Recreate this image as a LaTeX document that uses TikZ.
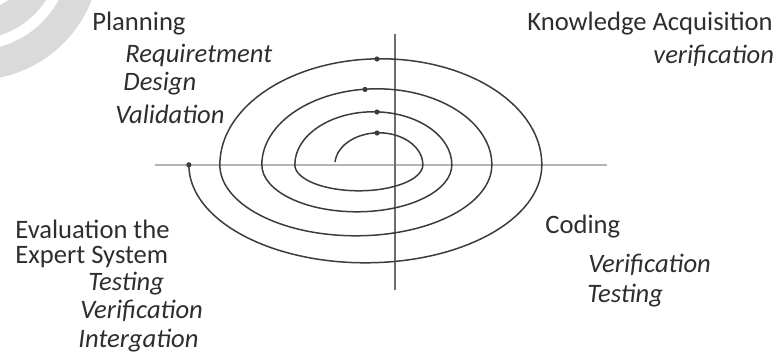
\documentclass[tikz,border=0pt]{standalone}
\usepackage{fontspec}
\setmainfont{Carlito}
\usepackage{xcolor}
\usetikzlibrary{positioning}
\definecolor{textgray}{HTML}{2E2E2E}
\definecolor{spiralgray}{HTML}{3C3C3C}
\definecolor{axisgray}{HTML}{B4B4B4}
\definecolor{poleray}{HTML}{6E6E6E}
\definecolor{markgray}{HTML}{DADADA}
\newcommand{\phasefont}{\fontsize{13.3}{16}\selectfont}
\tikzset{
 phase title/.style={anchor=base west,inner sep=0pt,text=textgray,font=\phasefont},
 phase task/.style={phase title,font=\phasefont\itshape},
 spiral line/.style={draw=spiralgray,line width=.75pt},
 axis line/.style={draw=axisgray,line width=.6pt},
 pole line/.style={draw=poleray,line width=1pt},
 spiral dot/.style={fill=spiralgray}
}

\begin{document}
\begin{tikzpicture}[x=.5pt,y=.5pt]
\useasboundingbox (0,0) rectangle (779,-360);
% faint rings in the corner
\begin{scope}
\clip (0,0) rectangle (779,-360);
\draw[markgray,line width=15pt] (-25,45) circle (110);
\draw[markgray,line width=14pt] (-25,45) circle (70);
\end{scope}
% axes
\coordinate (axis west) at (155,-165);
\coordinate (axis east) at (607,-165);
\coordinate (axis north) at (395,-34);
\coordinate (axis south) at (395,-290);
\draw[axis line] (axis west)--(axis east);
\draw[pole line] (axis north)--(axis south);
% spiral, inside out
\coordinate (spiral start) at (335,-162);
\draw[spiral line] (spiral start)
 arc[start angle=175,end angle=0,x radius=44,y radius=32]
 arc[start angle=0,end angle=-180,x radius=64,y radius=26]
 arc[start angle=180,end angle=0,x radius=78.5,y radius=53]
 arc[start angle=0,end angle=-180,x radius=95,y radius=47]
 arc[start angle=180,end angle=0,x radius=115,y radius=76]
 arc[start angle=0,end angle=-180,x radius=136,y radius=71]
 arc[start angle=180,end angle=0,x radius=161,y radius=106]
 arc[start angle=0,end angle=-180,x radius=176.5,y radius=98] coordinate (spiral end);
\coordinate (dot one) at (377,-133);
\coordinate (dot two) at (377,-112);
\coordinate (dot three) at (365,-89.4);
\coordinate (dot four) at (377,-59);
\foreach \d in {dot one,dot two,dot three,dot four,spiral end}
 \fill[spiral dot] (\d) circle (2.6);
% planning
\node[phase title] (planning) at (92,-30) {Planning};
\node[phase task] (requirement) at (125,-62) {Requiretment};
\node[phase task] (design) at (123,-90) {Design};
\node[phase task] (validation) at (115,-123) {Validation};
% knowledge acquisition
\node[phase title] (knowledge) at (527,-30) {Knowledge Acquisition};
\node[phase task] (ka verify) at (653,-63) {verification};
% coding
\node[phase title] (coding) at (545,-233) {Coding};
\node[phase task] (code verify) at (588,-272) {Verification};
\node[phase task] (code test) at (587,-302) {Testing};
% evaluation
\node[phase title] (evaluation) at (15,-238) {Evaluation the};
\node[phase title] (expert) at (15,-263) {Expert System};
\node[phase task] (eval test) at (88,-290) {Testing};
\node[phase task] (eval verify) at (80,-318) {Verification};
\node[phase task] (integration) at (78,-347) {Intergation};
\end{tikzpicture}
\end{document}
